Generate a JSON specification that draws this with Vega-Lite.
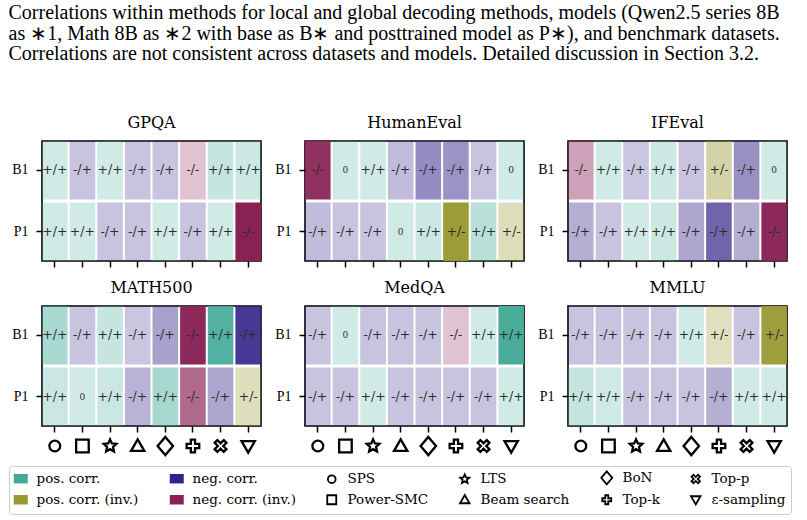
{
  "$schema": "https://vega.github.io/schema/vega-lite/v6.json",
  "background": "white",
  "padding": {"left": 8, "top": 3, "right": 5, "bottom": 5},
  "title": {
    "text": [
      "Correlations within methods for local and global decoding methods, models (Qwen2.5 series 8B",
      "as ∗1, Math 8B as ∗2 with base as B∗ and posttrained model as P∗), and benchmark datasets.",
      "Correlations are not consistent across datasets and models. Detailed discussion in Section 3.2."
    ],
    "anchor": "start",
    "frame": "bounds",
    "font": "Liberation Serif",
    "fontSize": 20,
    "lineHeight": 20.5,
    "fontWeight": "normal",
    "color": "black",
    "offset": 50
  },
  "datasets": {
    "cells": [
      {"ds": "GPQA", "model": "B1", "method": "SPS", "label": "+/+", "strength": 0.0},
      {"ds": "GPQA", "model": "B1", "method": "Power-SMC", "label": "-/+", "strength": 0.03},
      {"ds": "GPQA", "model": "B1", "method": "LTS", "label": "+/+", "strength": 0.0},
      {"ds": "GPQA", "model": "B1", "method": "Beam search", "label": "-/+", "strength": 0.03},
      {"ds": "GPQA", "model": "B1", "method": "BoN", "label": "-/+", "strength": 0.03},
      {"ds": "GPQA", "model": "B1", "method": "Top-k", "label": "-/-", "strength": 0.03},
      {"ds": "GPQA", "model": "B1", "method": "Top-p", "label": "+/+", "strength": 0.07},
      {"ds": "GPQA", "model": "B1", "method": "ε-sampling", "label": "+/+", "strength": 0.03},
      {"ds": "GPQA", "model": "P1", "method": "SPS", "label": "+/+", "strength": 0.01},
      {"ds": "GPQA", "model": "P1", "method": "Power-SMC", "label": "+/+", "strength": 0.0},
      {"ds": "GPQA", "model": "P1", "method": "LTS", "label": "-/+", "strength": 0.03},
      {"ds": "GPQA", "model": "P1", "method": "Beam search", "label": "-/+", "strength": 0.03},
      {"ds": "GPQA", "model": "P1", "method": "BoN", "label": "+/+", "strength": 0.0},
      {"ds": "GPQA", "model": "P1", "method": "Top-k", "label": "-/+", "strength": 0.03},
      {"ds": "GPQA", "model": "P1", "method": "Top-p", "label": "+/+", "strength": 0.0},
      {"ds": "GPQA", "model": "P1", "method": "ε-sampling", "label": "-/-", "strength": 1.0},

      {"ds": "HumanEval", "model": "B1", "method": "SPS", "label": "-/-", "strength": 0.91},
      {"ds": "HumanEval", "model": "B1", "method": "Power-SMC", "label": "0", "strength": 0.0},
      {"ds": "HumanEval", "model": "B1", "method": "LTS", "label": "+/+", "strength": 0.0},
      {"ds": "HumanEval", "model": "B1", "method": "Beam search", "label": "-/+", "strength": 0.07},
      {"ds": "HumanEval", "model": "B1", "method": "BoN", "label": "-/+", "strength": 0.36},
      {"ds": "HumanEval", "model": "B1", "method": "Top-k", "label": "-/+", "strength": 0.32},
      {"ds": "HumanEval", "model": "B1", "method": "Top-p", "label": "-/+", "strength": 0.03},
      {"ds": "HumanEval", "model": "B1", "method": "ε-sampling", "label": "0", "strength": 0.0},
      {"ds": "HumanEval", "model": "P1", "method": "SPS", "label": "-/+", "strength": 0.08},
      {"ds": "HumanEval", "model": "P1", "method": "Power-SMC", "label": "-/+", "strength": 0.03},
      {"ds": "HumanEval", "model": "P1", "method": "LTS", "label": "-/+", "strength": 0.03},
      {"ds": "HumanEval", "model": "P1", "method": "Beam search", "label": "0", "strength": 0.0},
      {"ds": "HumanEval", "model": "P1", "method": "BoN", "label": "+/+", "strength": 0.04},
      {"ds": "HumanEval", "model": "P1", "method": "Top-k", "label": "+/-", "strength": 0.96},
      {"ds": "HumanEval", "model": "P1", "method": "Top-p", "label": "+/+", "strength": 0.17},
      {"ds": "HumanEval", "model": "P1", "method": "ε-sampling", "label": "+/-", "strength": 0.11},

      {"ds": "IFEval", "model": "B1", "method": "SPS", "label": "-/-", "strength": 0.23},
      {"ds": "IFEval", "model": "B1", "method": "Power-SMC", "label": "+/+", "strength": 0.0},
      {"ds": "IFEval", "model": "B1", "method": "LTS", "label": "-/+", "strength": 0.01},
      {"ds": "IFEval", "model": "B1", "method": "Beam search", "label": "+/+", "strength": 0.03},
      {"ds": "IFEval", "model": "B1", "method": "BoN", "label": "-/+", "strength": 0.03},
      {"ds": "IFEval", "model": "B1", "method": "Top-k", "label": "+/-", "strength": 0.24},
      {"ds": "IFEval", "model": "B1", "method": "Top-p", "label": "-/+", "strength": 0.33},
      {"ds": "IFEval", "model": "B1", "method": "ε-sampling", "label": "0", "strength": 0.0},
      {"ds": "IFEval", "model": "P1", "method": "SPS", "label": "-/+", "strength": 0.15},
      {"ds": "IFEval", "model": "P1", "method": "Power-SMC", "label": "-/+", "strength": 0.03},
      {"ds": "IFEval", "model": "P1", "method": "LTS", "label": "+/+", "strength": 0.0},
      {"ds": "IFEval", "model": "P1", "method": "Beam search", "label": "+/+", "strength": 0.03},
      {"ds": "IFEval", "model": "P1", "method": "BoN", "label": "-/+", "strength": 0.2},
      {"ds": "IFEval", "model": "P1", "method": "Top-k", "label": "-/+", "strength": 0.6},
      {"ds": "IFEval", "model": "P1", "method": "Top-p", "label": "-/+", "strength": 0.16},
      {"ds": "IFEval", "model": "P1", "method": "ε-sampling", "label": "-/-", "strength": 0.96},

      {"ds": "MATH500", "model": "B1", "method": "SPS", "label": "+/+", "strength": 0.28},
      {"ds": "MATH500", "model": "B1", "method": "Power-SMC", "label": "-/+", "strength": 0.03},
      {"ds": "MATH500", "model": "B1", "method": "LTS", "label": "+/+", "strength": 0.07},
      {"ds": "MATH500", "model": "B1", "method": "Beam search", "label": "-/+", "strength": 0.01},
      {"ds": "MATH500", "model": "B1", "method": "BoN", "label": "-/+", "strength": 0.23},
      {"ds": "MATH500", "model": "B1", "method": "Top-k", "label": "-/-", "strength": 0.96},
      {"ds": "MATH500", "model": "B1", "method": "Top-p", "label": "+/+", "strength": 0.89},
      {"ds": "MATH500", "model": "B1", "method": "ε-sampling", "label": "-/+", "strength": 0.87},
      {"ds": "MATH500", "model": "P1", "method": "SPS", "label": "+/+", "strength": 0.04},
      {"ds": "MATH500", "model": "P1", "method": "Power-SMC", "label": "0", "strength": 0.0},
      {"ds": "MATH500", "model": "P1", "method": "LTS", "label": "+/+", "strength": 0.04},
      {"ds": "MATH500", "model": "P1", "method": "Beam search", "label": "-/+", "strength": 0.12},
      {"ds": "MATH500", "model": "P1", "method": "BoN", "label": "+/+", "strength": 0.29},
      {"ds": "MATH500", "model": "P1", "method": "Top-k", "label": "-/-", "strength": 0.57},
      {"ds": "MATH500", "model": "P1", "method": "Top-p", "label": "-/+", "strength": 0.2},
      {"ds": "MATH500", "model": "P1", "method": "ε-sampling", "label": "+/-", "strength": 0.09},

      {"ds": "MedQA", "model": "B1", "method": "SPS", "label": "-/+", "strength": 0.03},
      {"ds": "MedQA", "model": "B1", "method": "Power-SMC", "label": "0", "strength": 0.0},
      {"ds": "MedQA", "model": "B1", "method": "LTS", "label": "-/+", "strength": 0.03},
      {"ds": "MedQA", "model": "B1", "method": "Beam search", "label": "-/+", "strength": 0.03},
      {"ds": "MedQA", "model": "B1", "method": "BoN", "label": "-/+", "strength": 0.03},
      {"ds": "MedQA", "model": "B1", "method": "Top-k", "label": "-/-", "strength": 0.03},
      {"ds": "MedQA", "model": "B1", "method": "Top-p", "label": "+/+", "strength": 0.0},
      {"ds": "MedQA", "model": "B1", "method": "ε-sampling", "label": "+/+", "strength": 0.96},
      {"ds": "MedQA", "model": "P1", "method": "SPS", "label": "-/+", "strength": 0.03},
      {"ds": "MedQA", "model": "P1", "method": "Power-SMC", "label": "-/+", "strength": 0.03},
      {"ds": "MedQA", "model": "P1", "method": "LTS", "label": "+/+", "strength": 0.0},
      {"ds": "MedQA", "model": "P1", "method": "Beam search", "label": "-/+", "strength": 0.03},
      {"ds": "MedQA", "model": "P1", "method": "BoN", "label": "-/+", "strength": 0.03},
      {"ds": "MedQA", "model": "P1", "method": "Top-k", "label": "-/+", "strength": 0.03},
      {"ds": "MedQA", "model": "P1", "method": "Top-p", "label": "-/+", "strength": 0.03},
      {"ds": "MedQA", "model": "P1", "method": "ε-sampling", "label": "+/+", "strength": 0.0},

      {"ds": "MMLU", "model": "B1", "method": "SPS", "label": "-/+", "strength": 0.03},
      {"ds": "MMLU", "model": "B1", "method": "Power-SMC", "label": "-/+", "strength": 0.03},
      {"ds": "MMLU", "model": "B1", "method": "LTS", "label": "-/+", "strength": 0.03},
      {"ds": "MMLU", "model": "B1", "method": "Beam search", "label": "-/+", "strength": 0.03},
      {"ds": "MMLU", "model": "B1", "method": "BoN", "label": "+/+", "strength": 0.0},
      {"ds": "MMLU", "model": "B1", "method": "Top-k", "label": "+/-", "strength": 0.07},
      {"ds": "MMLU", "model": "B1", "method": "Top-p", "label": "-/+", "strength": 0.03},
      {"ds": "MMLU", "model": "B1", "method": "ε-sampling", "label": "+/-", "strength": 0.93},
      {"ds": "MMLU", "model": "P1", "method": "SPS", "label": "+/+", "strength": 0.07},
      {"ds": "MMLU", "model": "P1", "method": "Power-SMC", "label": "+/+", "strength": 0.01},
      {"ds": "MMLU", "model": "P1", "method": "LTS", "label": "-/+", "strength": 0.03},
      {"ds": "MMLU", "model": "P1", "method": "Beam search", "label": "-/+", "strength": 0.03},
      {"ds": "MMLU", "model": "P1", "method": "BoN", "label": "-/+", "strength": 0.03},
      {"ds": "MMLU", "model": "P1", "method": "Top-k", "label": "-/+", "strength": 0.15},
      {"ds": "MMLU", "model": "P1", "method": "Top-p", "label": "+/+", "strength": 0.0},
      {"ds": "MMLU", "model": "P1", "method": "ε-sampling", "label": "+/+", "strength": 0.0}
    ],
    "methods": [
      {"method": "SPS"}, {"method": "Power-SMC"}, {"method": "LTS"}, {"method": "Beam search"},
      {"method": "BoN"}, {"method": "Top-k"}, {"method": "Top-p"}, {"method": "ε-sampling"}
    ]
  },
  "spacing": 10,
  "vconcat": [
    {
      "hconcat": [
        {
          "title": "GPQA",
          "width": 219, "height": 120,
          "data": {"name": "cells"},
          "transform": [{"filter": "datum.ds === 'GPQA'"}],
          "encoding": {
            "x": {"field": "method", "type": "nominal", "title": null, "scale": {"type": "band", "domain": ["SPS", "Power-SMC", "LTS", "Beam search", "BoN", "Top-k", "Top-p", "ε-sampling"], "paddingInner": 0.073, "paddingOuter": 0}, "axis": {"labels": false}},
            "y": {"field": "model", "type": "nominal", "title": null, "scale": {"type": "band", "domain": ["B1", "P1"], "paddingInner": 0.045, "paddingOuter": 0}}
          },
          "layer": [
            {"mark": "rect", "encoding": {
              "color": {"field": "label", "type": "nominal", "scale": {"domain": ["+/+", "0", "-/+", "-/-", "+/-"], "range": ["#44AA99", "#44AA99", "#332288", "#882255", "#999933"]}, "legend": null},
              "opacity": {"field": "strength", "type": "quantitative", "scale": {"domain": [0, 1], "range": [0.25, 1]}, "legend": null}}},
            {"mark": {"type": "text", "font": "DejaVu Serif", "color": "#2b2b2b"}, "encoding": {
              "text": {"field": "label"},
              "size": {"condition": {"test": "datum.label === '0'", "value": 9}, "value": 12.5}}}
          ]
        },
        {
          "title": "HumanEval",
          "width": 219, "height": 120,
          "data": {"name": "cells"},
          "transform": [{"filter": "datum.ds === 'HumanEval'"}],
          "encoding": {
            "x": {"field": "method", "type": "nominal", "title": null, "scale": {"type": "band", "domain": ["SPS", "Power-SMC", "LTS", "Beam search", "BoN", "Top-k", "Top-p", "ε-sampling"], "paddingInner": 0.073, "paddingOuter": 0}, "axis": {"labels": false}},
            "y": {"field": "model", "type": "nominal", "title": null, "scale": {"type": "band", "domain": ["B1", "P1"], "paddingInner": 0.045, "paddingOuter": 0}}
          },
          "layer": [
            {"mark": "rect", "encoding": {
              "color": {"field": "label", "type": "nominal", "scale": {"domain": ["+/+", "0", "-/+", "-/-", "+/-"], "range": ["#44AA99", "#44AA99", "#332288", "#882255", "#999933"]}, "legend": null},
              "opacity": {"field": "strength", "type": "quantitative", "scale": {"domain": [0, 1], "range": [0.25, 1]}, "legend": null}}},
            {"mark": {"type": "text", "font": "DejaVu Serif", "color": "#2b2b2b"}, "encoding": {
              "text": {"field": "label"},
              "size": {"condition": {"test": "datum.label === '0'", "value": 9}, "value": 12.5}}}
          ]
        },
        {
          "title": "IFEval",
          "width": 219, "height": 120,
          "data": {"name": "cells"},
          "transform": [{"filter": "datum.ds === 'IFEval'"}],
          "encoding": {
            "x": {"field": "method", "type": "nominal", "title": null, "scale": {"type": "band", "domain": ["SPS", "Power-SMC", "LTS", "Beam search", "BoN", "Top-k", "Top-p", "ε-sampling"], "paddingInner": 0.073, "paddingOuter": 0}, "axis": {"labels": false}},
            "y": {"field": "model", "type": "nominal", "title": null, "scale": {"type": "band", "domain": ["B1", "P1"], "paddingInner": 0.045, "paddingOuter": 0}}
          },
          "layer": [
            {"mark": "rect", "encoding": {
              "color": {"field": "label", "type": "nominal", "scale": {"domain": ["+/+", "0", "-/+", "-/-", "+/-"], "range": ["#44AA99", "#44AA99", "#332288", "#882255", "#999933"]}, "legend": null},
              "opacity": {"field": "strength", "type": "quantitative", "scale": {"domain": [0, 1], "range": [0.25, 1]}, "legend": null}}},
            {"mark": {"type": "text", "font": "DejaVu Serif", "color": "#2b2b2b"}, "encoding": {
              "text": {"field": "label"},
              "size": {"condition": {"test": "datum.label === '0'", "value": 9}, "value": 12.5}}}
          ]
        }
      ],
      "spacing": 11
    },
    {
      "hconcat": [
        {
          "vconcat": [
            {
              "title": "MATH500",
              "width": 219, "height": 120,
              "data": {"name": "cells"},
              "transform": [{"filter": "datum.ds === 'MATH500'"}],
              "encoding": {
                "x": {"field": "method", "type": "nominal", "title": null, "scale": {"type": "band", "domain": ["SPS", "Power-SMC", "LTS", "Beam search", "BoN", "Top-k", "Top-p", "ε-sampling"], "paddingInner": 0.073, "paddingOuter": 0}, "axis": {"labels": false}},
                "y": {"field": "model", "type": "nominal", "title": null, "scale": {"type": "band", "domain": ["B1", "P1"], "paddingInner": 0.045, "paddingOuter": 0}}
              },
              "layer": [
                {"mark": "rect", "encoding": {
                  "color": {"field": "label", "type": "nominal", "scale": {"domain": ["+/+", "0", "-/+", "-/-", "+/-"], "range": ["#44AA99", "#44AA99", "#332288", "#882255", "#999933"]}, "legend": null},
                  "opacity": {"field": "strength", "type": "quantitative", "scale": {"domain": [0, 1], "range": [0.25, 1]}, "legend": null}}},
                {"mark": {"type": "text", "font": "DejaVu Serif", "color": "#2b2b2b"}, "encoding": {
                  "text": {"field": "label"},
                  "size": {"condition": {"test": "datum.label === '0'", "value": 9}, "value": 12.5}}}
              ]
            },
            {
              "width": 219, "height": 16,
              "view": {"stroke": null},
              "data": {"name": "methods"},
              "mark": {"type": "point", "filled": true, "size": 196, "strokeWidth": 2.3, "opacity": 1},
              "encoding": {
                "x": {"field": "method", "type": "nominal", "scale": {"type": "band", "domain": ["SPS", "Power-SMC", "LTS", "Beam search", "BoN", "Top-k", "Top-p", "ε-sampling"], "paddingInner": 0.073, "paddingOuter": 0}, "axis": null},
                "shape": {"field": "method", "type": "nominal", "legend": {"title": null, "orient": "none", "legendX": -33, "legendY": 325},
                  "scale": {"domain": ["pos. corr.", "pos. corr. (inv.)", "neg. corr.", "neg. corr. (inv.)", "SPS", "Power-SMC", "LTS", "Beam search", "BoN", "Top-k", "Top-p", "ε-sampling"],
                    "range": ["M-1.4,-0.95H1.4V0.95H-1.4Z", "M-1.4,-0.95H1.4V0.95H-1.4Z", "M-1.4,-0.95H1.4V0.95H-1.4Z", "M-1.4,-0.95H1.4V0.95H-1.4Z", "M0.77,0A0.77,0.77,0,1,1,-0.77,0A0.77,0.77,0,1,1,0.77,0Z", "M-0.9,-0.9H0.9V0.9H-0.9Z", "M0,-0.95L0.265,-0.364L0.903,-0.294L0.428,0.139L0.559,0.769L0,0.45L-0.559,0.769L-0.428,0.139L-0.903,-0.294L-0.265,-0.364Z", "M0,-0.95L0.95,0.7L-0.95,0.7Z", "M0,-1.3L1.1,0L0,1.3L-1.1,0Z", "M-0.3,-0.9H0.3V-0.3H0.9V0.3H0.3V0.9H-0.3V0.3H-0.9V-0.3H-0.3Z", "M0.455,-0.845L0.845,-0.455L0.39,0L0.845,0.455L0.455,0.845L0,0.39L-0.455,0.845L-0.845,0.455L-0.39,0L-0.845,-0.455L-0.455,-0.845L0,-0.39Z", "M-0.95,-0.7L0.95,-0.7L0,0.95Z"]}},
                "fill": {"field": "method", "type": "nominal", "legend": {"title": null, "orient": "none", "legendX": -33, "legendY": 325},
                  "scale": {"domain": ["pos. corr.", "pos. corr. (inv.)", "neg. corr.", "neg. corr. (inv.)", "SPS", "Power-SMC", "LTS", "Beam search", "BoN", "Top-k", "Top-p", "ε-sampling"],
                    "range": ["#44AA99", "#999933", "#332288", "#882255", "white", "white", "white", "white", "white", "white", "white", "white"]}},
                "stroke": {"field": "method", "type": "nominal", "legend": {"title": null, "orient": "none", "legendX": -33, "legendY": 325},
                  "scale": {"domain": ["pos. corr.", "pos. corr. (inv.)", "neg. corr.", "neg. corr. (inv.)", "SPS", "Power-SMC", "LTS", "Beam search", "BoN", "Top-k", "Top-p", "ε-sampling"],
                    "range": ["transparent", "transparent", "transparent", "transparent", "black", "black", "black", "black", "black", "black", "black", "black"]}}
              }
            }
          ],
          "spacing": -2
        },
        {
          "vconcat": [
            {
              "title": "MedQA",
              "width": 219, "height": 120,
              "data": {"name": "cells"},
              "transform": [{"filter": "datum.ds === 'MedQA'"}],
              "encoding": {
                "x": {"field": "method", "type": "nominal", "title": null, "scale": {"type": "band", "domain": ["SPS", "Power-SMC", "LTS", "Beam search", "BoN", "Top-k", "Top-p", "ε-sampling"], "paddingInner": 0.073, "paddingOuter": 0}, "axis": {"labels": false}},
                "y": {"field": "model", "type": "nominal", "title": null, "scale": {"type": "band", "domain": ["B1", "P1"], "paddingInner": 0.045, "paddingOuter": 0}}
              },
              "layer": [
                {"mark": "rect", "encoding": {
                  "color": {"field": "label", "type": "nominal", "scale": {"domain": ["+/+", "0", "-/+", "-/-", "+/-"], "range": ["#44AA99", "#44AA99", "#332288", "#882255", "#999933"]}, "legend": null},
                  "opacity": {"field": "strength", "type": "quantitative", "scale": {"domain": [0, 1], "range": [0.25, 1]}, "legend": null}}},
                {"mark": {"type": "text", "font": "DejaVu Serif", "color": "#2b2b2b"}, "encoding": {
                  "text": {"field": "label"},
                  "size": {"condition": {"test": "datum.label === '0'", "value": 9}, "value": 12.5}}}
              ]
            },
            {
              "width": 219, "height": 16,
              "view": {"stroke": null},
              "data": {"name": "methods"},
              "mark": {"type": "point", "filled": true, "size": 196, "strokeWidth": 2.3, "opacity": 1},
              "encoding": {
                "x": {"field": "method", "type": "nominal", "scale": {"type": "band", "domain": ["SPS", "Power-SMC", "LTS", "Beam search", "BoN", "Top-k", "Top-p", "ε-sampling"], "paddingInner": 0.073, "paddingOuter": 0}, "axis": null},
                "shape": {"field": "method", "type": "nominal", "legend": {"title": null, "orient": "none", "legendX": -33, "legendY": 325}},
                "fill": {"field": "method", "type": "nominal", "legend": {"title": null, "orient": "none", "legendX": -33, "legendY": 325}},
                "stroke": {"field": "method", "type": "nominal", "legend": {"title": null, "orient": "none", "legendX": -33, "legendY": 325}}
              }
            }
          ],
          "spacing": -2
        },
        {
          "vconcat": [
            {
              "title": "MMLU",
              "width": 219, "height": 120,
              "data": {"name": "cells"},
              "transform": [{"filter": "datum.ds === 'MMLU'"}],
              "encoding": {
                "x": {"field": "method", "type": "nominal", "title": null, "scale": {"type": "band", "domain": ["SPS", "Power-SMC", "LTS", "Beam search", "BoN", "Top-k", "Top-p", "ε-sampling"], "paddingInner": 0.073, "paddingOuter": 0}, "axis": {"labels": false}},
                "y": {"field": "model", "type": "nominal", "title": null, "scale": {"type": "band", "domain": ["B1", "P1"], "paddingInner": 0.045, "paddingOuter": 0}}
              },
              "layer": [
                {"mark": "rect", "encoding": {
                  "color": {"field": "label", "type": "nominal", "scale": {"domain": ["+/+", "0", "-/+", "-/-", "+/-"], "range": ["#44AA99", "#44AA99", "#332288", "#882255", "#999933"]}, "legend": null},
                  "opacity": {"field": "strength", "type": "quantitative", "scale": {"domain": [0, 1], "range": [0.25, 1]}, "legend": null}}},
                {"mark": {"type": "text", "font": "DejaVu Serif", "color": "#2b2b2b"}, "encoding": {
                  "text": {"field": "label"},
                  "size": {"condition": {"test": "datum.label === '0'", "value": 9}, "value": 12.5}}}
              ]
            },
            {
              "width": 219, "height": 16,
              "view": {"stroke": null},
              "data": {"name": "methods"},
              "mark": {"type": "point", "filled": true, "size": 196, "strokeWidth": 2.3, "opacity": 1},
              "encoding": {
                "x": {"field": "method", "type": "nominal", "scale": {"type": "band", "domain": ["SPS", "Power-SMC", "LTS", "Beam search", "BoN", "Top-k", "Top-p", "ε-sampling"], "paddingInner": 0.073, "paddingOuter": 0}, "axis": null},
                "shape": {"field": "method", "type": "nominal", "legend": {"title": null, "orient": "none", "legendX": -33, "legendY": 325}},
                "fill": {"field": "method", "type": "nominal", "legend": {"title": null, "orient": "none", "legendX": -33, "legendY": 325}},
                "stroke": {"field": "method", "type": "nominal", "legend": {"title": null, "orient": "none", "legendX": -33, "legendY": 325}}
              }
            }
          ],
          "spacing": -2
        }
      ],
      "spacing": 11
    }
  ],
  "config": {
    "view": {"stroke": "black", "strokeWidth": 1.6},
    "axis": {
      "domain": false,
      "grid": false,
      "tickColor": "black",
      "tickWidth": 1.5,
      "tickSize": 6,
      "labelColor": "black",
      "labelFont": "Liberation Serif",
      "labelFontSize": 14,
      "labelPadding": 8
    },
    "title": {
      "font": "DejaVu Serif",
      "fontSize": 16,
      "fontWeight": "normal",
      "color": "black",
      "offset": 10
    },
    "legend": {
      "columns": 6,
      "direction": "vertical",
      "gridAlign": "each",
      "columnPadding": 27,
      "rowPadding": 3,
      "padding": 5,
      "strokeColor": "#cccccc",
      "cornerRadius": 3,
      "fillColor": "white",
      "labelFont": "DejaVu Serif",
      "labelFontSize": 13.5,
      "labelColor": "black",
      "labelOffset": 9,
      "symbolSize": 100,
      "symbolStrokeWidth": 1.8,
      "symbolOpacity": 1
    }
  }
}
